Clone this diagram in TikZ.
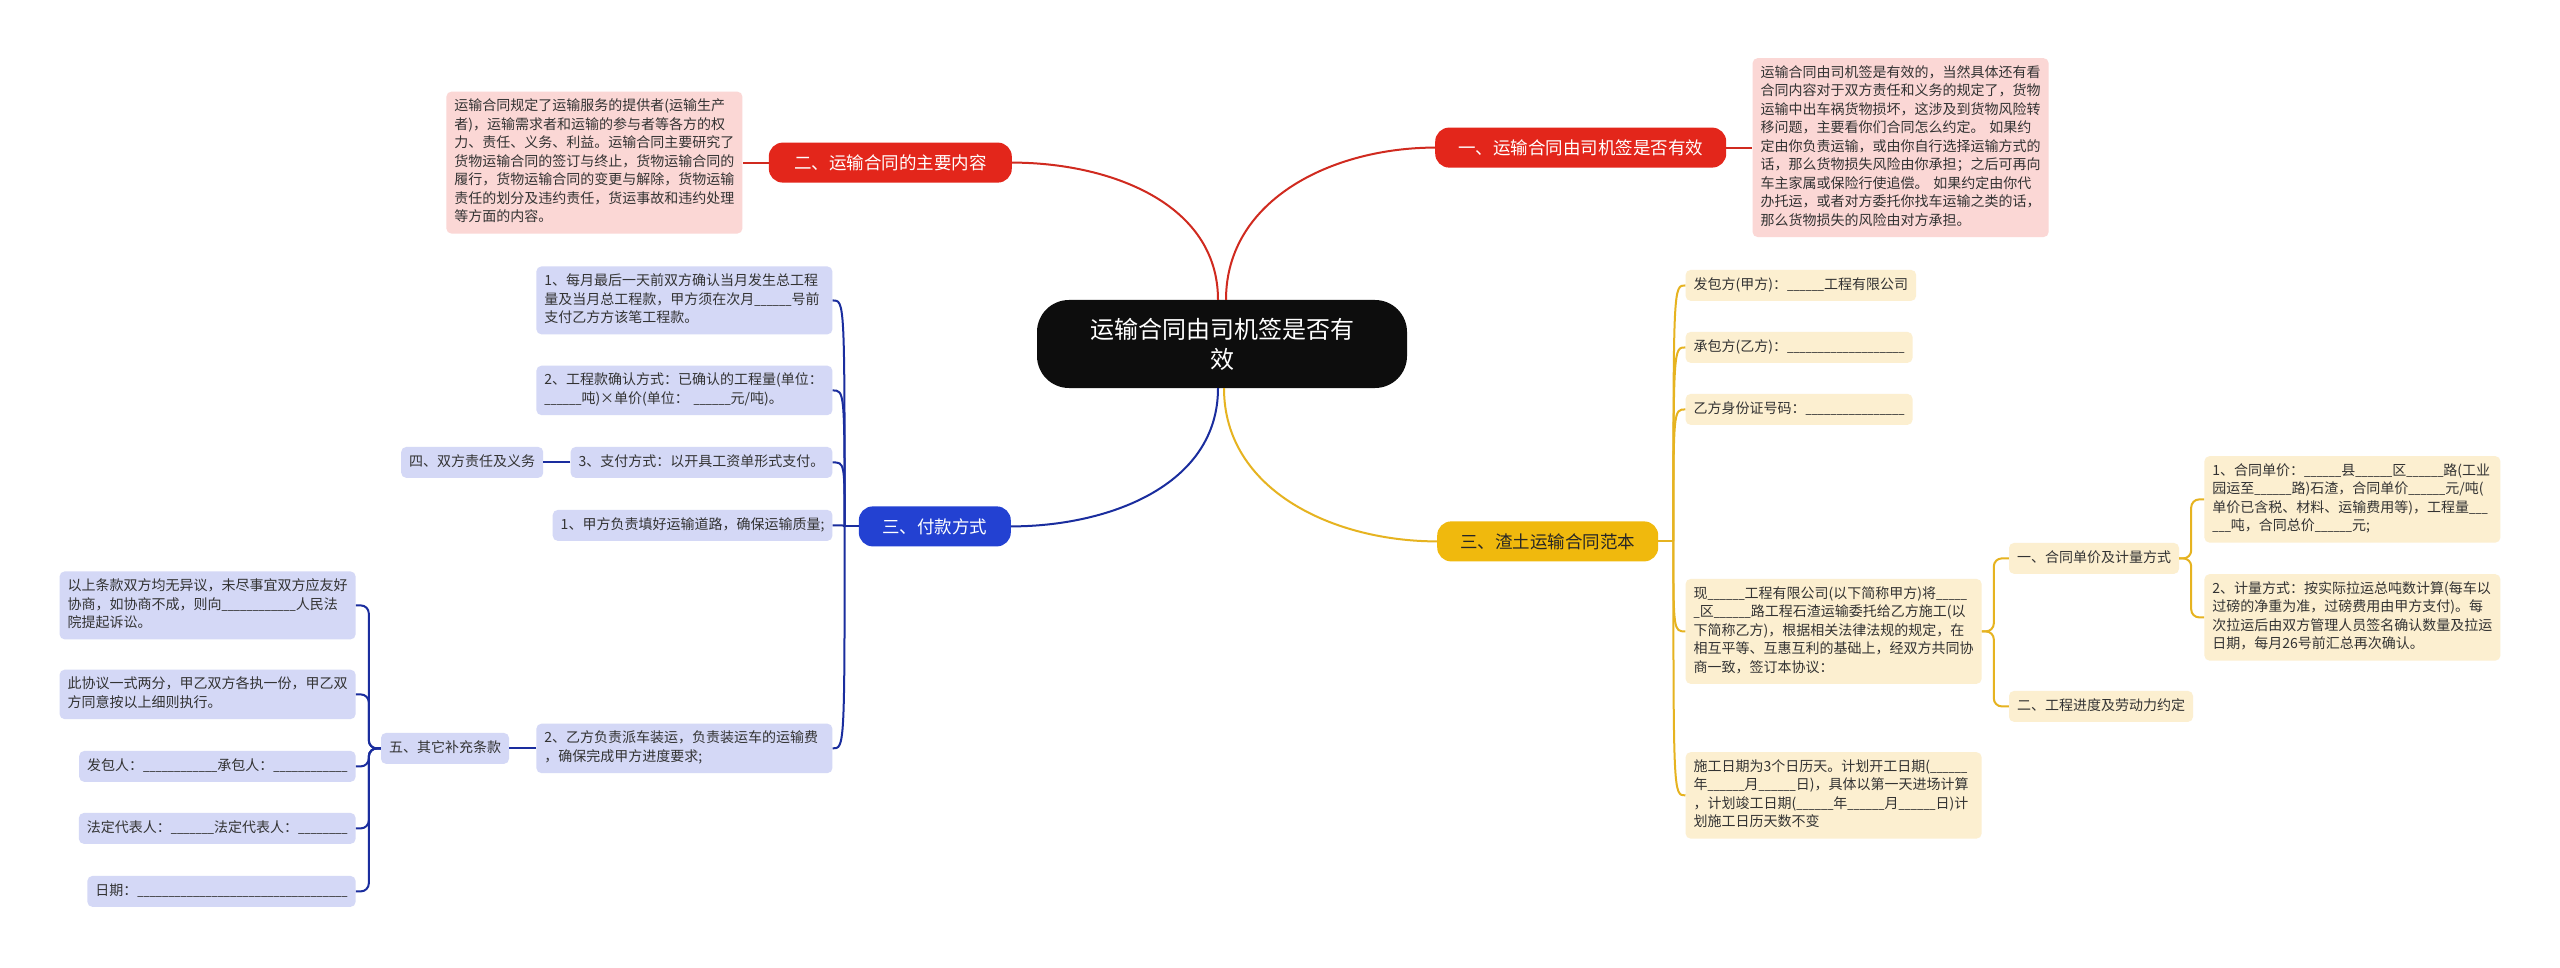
\documentclass[tikz,border=0pt]{standalone}
\usepackage{fontspec}
\newfontfamily\cjk{Noto Sans CJK SC}
\newfontfamily\cjkline[FakeStretch=0.79]{Noto Sans CJK SC}
\usetikzlibrary{positioning}

\definecolor{hubred}{HTML}{E3261B}
\definecolor{linered}{HTML}{D02A1F}
\definecolor{leafpink}{HTML}{FBD7D5}
\definecolor{hubblue}{HTML}{2341D2}
\definecolor{lineblue}{HTML}{1A2D9E}
\definecolor{leafblue}{HTML}{D4D8F6}
\definecolor{hubyellow}{HTML}{F0B90D}
\definecolor{lineyellow}{HTML}{E6B320}
\definecolor{leafyellow}{HTML}{FCEFD0}

\newcommand\blanks[1]{{\cjkline\foreach\k in {1,...,#1}{\_}}}

\begin{document}
\begin{tikzpicture}[x=1pt, y=-1pt,
    root/.style={fill=black!95, text=white, rounded corners=32pt, minimum width=370pt, minimum height=88pt, text width=270pt, align=center, font=\cjk\fontsize{24}{30}\selectfont},
    hub/.style={rounded corners=14pt, minimum height=40pt, inner xsep=0pt, inner ysep=0pt, font=\cjk\fontsize{17.5}{22}\selectfont},
    redhub/.style={hub, fill=hubred, text=white},
    bluehub/.style={hub, fill=hubblue, text=white},
    yellowhub/.style={hub, fill=hubyellow, text=black!85},
    leaf/.style={rounded corners=5pt, inner xsep=8pt, inner ysep=6.2pt, align=left, text=black!80, font=\cjk\fontsize{14}{18.5}\selectfont, execute at begin node=\strut, execute at end node=\strut},
    wide/.style={text width=280pt},
    pinkleaf/.style={leaf, wide, fill=leafpink},
    blueleaf/.style={leaf, fill=leafblue},
    yellowleaf/.style={leaf, fill=leafyellow},
    redline/.style={draw=linered, line width=2pt},
    blueline/.style={draw=lineblue, line width=2pt},
    yellowline/.style={draw=lineyellow, line width=2pt}]

    \fill[white] (0,0) rectangle (2560,968);
    \useasboundingbox (0,0) rectangle (2560,968);

    \node[root] (c) at (1222,344) {运输合同由司机签是否有\\效};

    % red side
    \node[redhub, minimum width=243pt, above left=117pt and 210pt of c.north] (cont) {二、运输合同的主要内容};
    \node[pinkleaf, left=26pt of cont] (contn) {运输合同规定了运输服务的提供者(运输生产\\者)，运输需求者和运输的参与者等各方的权\\力、责任、义务、利益。运输合同主要研究了\\货物运输合同的签订与终止，货物运输合同的\\履行，货物运输合同的变更与解除，货物运输\\责任的划分及违约责任，货运事故和违约处理\\等方面的内容。};
    \node[redhub, minimum width=291pt, above right=132pt and 213pt of c.north] (valid) {一、运输合同由司机签是否有效};
    \node[pinkleaf, right=26pt of valid] (validn) {运输合同由司机签是有效的，当然具体还有看\\合同内容对于双方责任和义务的规定了，货物\\运输中出车祸货物损坏，这涉及到货物风险转\\移问题，主要看你们合同怎么约定。 如果约\\定由你负责运输，或由你自行选择运输方式的\\话，那么货物损失风险由你承担；之后可再向\\车主家属或保险行使追偿。 如果约定由你代\\办托运，或者对方委托你找车运输之类的话，\\那么货物损失的风险由对方承担。};

    % blue side
    \node[bluehub, minimum width=152pt, below left=118pt and 211pt of c.south] (pay) {三、付款方式};
    \node[blueleaf, wide, left=26pt of pay, yshift=226pt] (pay1) {1、每月最后一天前双方确认当月发生总工程\\量及当月总工程款，甲方须在次月\blanks{6}号前\\支付乙方方该笔工程款。};
    \node[blueleaf, wide, left=26pt of pay, yshift=136pt] (pay2) {2、工程款确认方式：已确认的工程量(单位：\\\blanks{6}吨)×单价(单位： \blanks{6}元/吨)。};
    \node[blueleaf, left=26pt of pay, yshift=64pt] (pay3) {3、支付方式：以开具工资单形式支付。};
    \node[blueleaf, left=26pt of pay, yshift=1pt] (pay4) {1、甲方负责填好运输道路，确保运输质量;};
    \node[blueleaf, wide, left=26pt of pay, yshift=-222pt] (pay5) {2、乙方负责派车装运，负责装运车的运输费\\，确保完成甲方进度要求;};
    \node[blueleaf, left=27pt of pay3] (duty) {四、双方责任及义务};
    \node[blueleaf, left=27pt of pay5] (more) {五、其它补充条款};
    \node[blueleaf, wide, left=25pt of more, yshift=143pt] (fa) {以上条款双方均无异议，未尽事宜双方应友好\\协商，如协商不成，则向\blanks{12}人民法\\院提起诉讼。};
    \node[blueleaf, wide, left=25pt of more, yshift=54pt] (fb) {此协议一式两分，甲乙双方各执一份，甲乙双\\方同意按以上细则执行。};
    \node[blueleaf, left=25pt of more, yshift=-18pt] (fc) {发包人：\blanks{12}承包人：\blanks{12}};
    \node[blueleaf, left=25pt of more, yshift=-80pt] (fd) {法定代表人：\blanks{7}法定代表人：\blanks{8}};
    \node[blueleaf, left=25pt of more, yshift=-143pt] (fe) {日期：\blanks{34}};

    % yellow side
    \node[yellowhub, minimum width=221pt, below right=133pt and 215pt of c.south] (muck) {三、渣土运输合同范本};
    \node[yellowleaf, right=27pt of muck, yshift=256pt] (y1) {发包方(甲方)：\blanks{6}工程有限公司};
    \node[yellowleaf, right=27pt of muck, yshift=194pt] (y2) {承包方(乙方)：\blanks{19}};
    \node[yellowleaf, right=27pt of muck, yshift=132pt] (y3) {乙方身份证号码：\blanks{16}};
    \node[yellowleaf, wide, right=27pt of muck, yshift=-90pt] (y4) {现\blanks{6}工程有限公司(以下简称甲方)将\blanks{5}\\\blanks{1}区\blanks{6}路工程石渣运输委托给乙方施工(以\\下简称乙方)，根据相关法律法规的规定，在\\相互平等、互惠互利的基础上，经双方共同协\\商一致，签订本协议：};
    \node[yellowleaf, wide, right=27pt of muck, yshift=-254pt] (y5) {施工日期为3个日历天。计划开工日期(\blanks{6}\\年\blanks{6}月\blanks{6}日)，具体以第一天进场计算\\，计划竣工日期(\blanks{6}年\blanks{6}月\blanks{6}日)计\\划施工日历天数不变};
    \node[yellowleaf, right=27pt of y4, yshift=73pt] (s1) {一、合同单价及计量方式};
    \node[yellowleaf, right=27pt of y4, yshift=-75pt] (s2) {二、工程进度及劳动力约定};
    \node[yellowleaf, wide, right=25pt of s1, yshift=59pt] (z1) {1、合同单价：\blanks{6}县\blanks{6}区\blanks{6}路(工业\\园运至\blanks{6}路)石渣，合同单价\blanks{6}元/吨(\\单价已含税、材料、运输费用等)，工程量\blanks{3}\\\blanks{3}吨，合同总价\blanks{6}元;};
    \node[yellowleaf, wide, right=25pt of s1, yshift=-59pt] (z2) {2、计量方式：按实际拉运总吨数计算(每车以\\过磅的净重为准，过磅费用由甲方支付)。每\\次拉运后由双方管理人员签名确认数量及拉运\\日期，每月26号前汇总再次确认。};

    % connectors
    \draw[redline] ([xshift=-4pt]c.north) to[out=90, in=0] (cont.east);
    \draw[redline] ([xshift=4pt]c.north) to[out=90, in=180] (valid.west);
    \draw[redline] (cont.west) -- (contn.east);
    \draw[redline] (valid.east) -- (validn.west);

    \draw[blueline] ([xshift=-4pt]c.south) to[out=-90, in=0] (pay.east);
    \draw[blueline] (pay.west) -- ++(-14pt,0) coordinate (ps);
    \foreach \n in {pay1,pay2,pay3,pay4,pay5}
        \draw[blueline] (ps) .. controls (ps |- \n.east) .. (\n.east);
    \draw[blueline] (pay3.west) -- (duty.east);
    \draw[blueline] (pay5.west) -- (more.east);
    \foreach \n in {fa,fb,fc,fd,fe}
        \draw[blueline, rounded corners=8pt] (more.west) -- ++(-12pt,0) |- (\n.east);

    \draw[yellowline] ([xshift=2pt]c.south) to[out=-90, in=180] (muck.west);
    \draw[yellowline] (muck.east) -- ++(15pt,0) coordinate (ms);
    \foreach \n in {y1,y2,y3,y4,y5}
        \draw[yellowline] (ms) .. controls (ms |- \n.west) .. (\n.west);
    \foreach \n in {s1,s2}
        \draw[yellowline, rounded corners=8pt] (y4.east) -- ++(12pt,0) |- (\n.west);
    \foreach \n in {z1,z2}
        \draw[yellowline, rounded corners=8pt] (s1.east) -- ++(12pt,0) |- (\n.west);

\end{tikzpicture}
\end{document}
